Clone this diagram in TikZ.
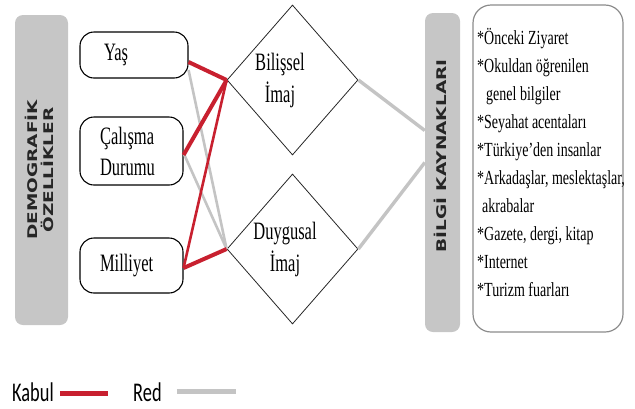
\documentclass[tikz,border=0pt]{standalone}
\usepackage{fontspec}
\setmainfont{Liberation Serif}
\newfontfamily\condserif[FakeStretch=0.66]{Liberation Serif}
\newfontfamily\srcfont[FakeStretch=0.7]{Liberation Serif}
\newfontfamily\legfont[FakeStretch=0.68]{Carlito}
\newfontfamily\barfont{DejaVu Sans}
\usetikzlibrary{shapes.geometric}
\definecolor{kabulred}{HTML}{C8202F}
\definecolor{redgray}{HTML}{C4C4C4}
\definecolor{barfill}{HTML}{C6C6C6}
\begin{document}
\begin{tikzpicture}[x=1pt,y=-1pt,
  pill/.style={draw=black, line width=1.1pt, rounded corners=14pt, fill=white,
    align=left, inner ysep=0pt, font=\condserif\fontsize{25}{31}\selectfont},
  diam/.style={diamond, draw=black!85, line width=0.8pt, inner sep=0pt,
    minimum width=131pt, minimum height=150pt},
  dlabel/.style={align=center, inner sep=0pt, font=\condserif\fontsize{25}{32}\selectfont},
  bar/.style={fill=barfill, draw=none, rounded corners=8pt},
  bartext/.style={rotate=90, inner sep=0pt, text=black!85,
    font=\barfont\bfseries\fontsize{18.5}{21}\selectfont},
  kab/.style={draw=kabulred, line width=4pt},
  kabthin/.style={draw=kabulred, line width=2.6pt},
  rejl/.style={draw=redgray, line width=2.6pt},
  rejthick/.style={draw=redgray, line width=3.4pt},
  legtext/.style={inner sep=0pt, anchor=west, font=\legfont\fontsize{27}{30}\selectfont}
]
\useasboundingbox (0,0) rectangle (635,408);

% left bar
\node[bar, minimum width=53pt, minimum height=310pt] (dem) at (41.5,170) {};
\node[bartext] (demT) at (41.5,170)
  {\scalebox{1}[0.72]{\begin{tabular}{@{}c@{}}DEMOGRAFİK\\[-2pt]ÖZELLİKLER\end{tabular}}};

% demographic boxes
\node[pill, minimum height=46pt, text width=60pt, inner xsep=24pt] (yas) at (134,55) {Yaş};
\node[pill, minimum height=68pt, text width=63pt, inner xsep=20pt] (cal) at (131.5,151) {Çalışma\\Durumu};
\node[pill, minimum height=55pt, text width=63pt, inner xsep=20pt] (mil) at (131.5,265.5) {Milliyet};

% diamonds
\node[diam] (bil) at (292.5,80) {};
\node[dlabel] (bilT) at (280,80) {Bilişsel\\İmaj};
\node[diam] (duy) at (292.5,249) {};
\node[dlabel] (duyT) at (285,249) {Duygusal\\İmaj};

% right bar
\node[bar, minimum width=35pt, minimum height=319pt] (bilgi) at (442.5,172.5) {};
\node[bartext] (bilgiT) at (440,156) {\scalebox{1}[0.72]{BİLGİ KAYNAKLARI}};

% sources box
\node[draw=black!45, line width=1.2pt, rounded corners=18pt, fill=white,
  minimum width=150pt, minimum height=327pt] (src) at (548,168.5) {};
\node[anchor=north west, inner sep=0pt, align=left,
  font=\srcfont\fontsize{20}{28}\selectfont] (srcT) at (477,28)
  {*Önceki Ziyaret\\
   *Okuldan öğrenilen\\
   \hspace*{9pt}genel bilgiler\\
   *Seyahat acentaları\\
   *Türkiye’den insanlar\\
   *Arkadaşlar, meslektaşlar,\\
   \hspace*{5pt}akrabalar\\
   *Gazete, dergi, kitap\\
   *Internet\\
   *Turizm fuarları};

% gray (Red) connectors
\draw[rejl] ([yshift=-15pt]yas.east) -- (duy.west);
\draw[rejl] ([yshift=-2pt]cal.east) -- (duy.west);
\draw[rejthick] (bil.east) -- ([yshift=42pt]bilgi.west);
\draw[rejthick] (duy.east) -- ([yshift=10pt]bilgi.west);

% red (Kabul) connectors
\draw[kab] ([yshift=-7pt]yas.east) -- (bil.west);
\draw[kab] ([yshift=-4pt]cal.east) -- (bil.west);
\draw[kabthin] ([yshift=-2.5pt]mil.east) -- (bil.west);
\draw[kab] ([yshift=-2.5pt]mil.east) -- (duy.west);

% legend
\node[legtext] (kabul) at (12,392.5) {Kabul};
\coordinate (kabEnd) at (108,393);
\draw[draw=kabulred, line width=5pt] ([xshift=6pt,yshift=-0.5pt]kabul.east) -- (kabEnd);
\node[legtext] (red) at (133,392.5) {Red};
\coordinate (redEnd) at (236,391);
\draw[draw=redgray, line width=5pt] ([xshift=15pt,yshift=1.5pt]red.east) -- (redEnd);
\end{tikzpicture}
\end{document}
